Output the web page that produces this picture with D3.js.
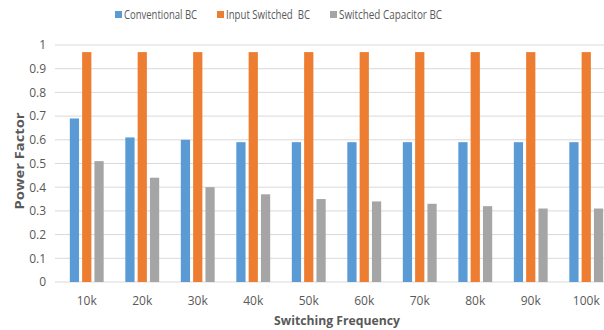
<!DOCTYPE html>
<html><head><meta charset="utf-8">
<script src="https://cdn.jsdelivr.net/npm/d3@7"></script>
<style>body{margin:0;background:#fff}svg{display:block}</style>
</head><body>
<script>
const categories = ["10k","20k","30k","40k","50k","60k","70k","80k","90k","100k"];
const seriesNames = ["Conventional BC","Input Switched  BC","Switched Capacitor BC"];
const conventional = [0.69,0.61,0.60,0.59,0.59,0.59,0.59,0.59,0.59,0.59];
const inputSwitched = [0.97,0.97,0.97,0.97,0.97,0.97,0.97,0.97,0.97,0.97];
const switchedCap = [0.51,0.44,0.40,0.37,0.35,0.34,0.33,0.32,0.31,0.31];
const yTicks = [0,0.1,0.2,0.3,0.4,0.5,0.6,0.7,0.8,0.9,1];
const colors = ["#5B9BD5","#ED7D31","#A5A5A5"];

const W=604,H=330;
const font="'Open Sans',sans-serif";
const svg=d3.select("body").append("svg").attr("width",W).attr("height",H);
const x=d3.scaleBand().domain(categories).range([59,614]).paddingInner(0.39).paddingOuter(0.195);
const x0=d3.scaleBand().domain(categories).range([59,614]);
const y=d3.scaleLinear().domain([0,1]).range([282,45]);
const xs=d3.scaleBand().domain([0,1,2]).range([0,x.bandwidth()]).paddingInner(0.25);

// gridlines
svg.append("g").selectAll("line").data(yTicks).join("line")
 .attr("x1",55).attr("x2",W).attr("y1",d=>y(d)).attr("y2",d=>y(d))
 .attr("stroke","#D9D9D9").attr("stroke-width",1);

// y axis labels
const ya=svg.append("g").attr("transform","translate(46,0)")
 .call(d3.axisLeft(y).tickValues(yTicks).tickSize(0).tickPadding(0).tickFormat(d=>d3.format("")(+d.toFixed(1))));
ya.select(".domain").remove();
ya.selectAll("text").attr("font-family",font).attr("font-size",12).attr("fill","#595959");

// x axis labels
const xa=svg.append("g").attr("transform","translate(0,282)")
 .call(d3.axisBottom(x0).tickSize(0).tickPadding(14));
xa.select(".domain").remove();
xa.selectAll("text").attr("font-family",font).attr("font-size",12).attr("fill","#595959");

const data=[conventional,inputSwitched,switchedCap];
data.forEach((arr,si)=>{
 svg.append("g").selectAll("rect").data(arr).join("rect")
  .attr("x",(d,i)=>x(categories[i])+xs(si))
  .attr("width",xs.bandwidth())
  .attr("y",d=>y(d)).attr("height",d=>y(0)-y(d))
  .attr("fill",colors[si]);
});

// axis titles
svg.append("text").attr("x",337).attr("y",325).attr("text-anchor","middle")
 .attr("font-family",font).attr("font-size",13).attr("font-weight","bold").attr("fill","#595959")
 .attr("textLength",126).attr("lengthAdjust","spacingAndGlyphs")
 .text("Switching Frequency");
svg.append("text").attr("transform","translate(24,161) rotate(-90)").attr("text-anchor","middle")
 .attr("font-family",font).attr("font-size",13).attr("font-weight","bold").attr("fill","#595959")
 .attr("textLength",97).attr("lengthAdjust","spacingAndGlyphs")
 .text("Power Factor");

// legend
const legX=[115,217,330];
const legW=[73,84,103];
const lg=svg.append("g");
seriesNames.forEach((n,i)=>{
 lg.append("rect").attr("x",legX[i]).attr("y",11).attr("width",7).attr("height",7).attr("fill",colors[i]);
 lg.append("text").attr("x",legX[i]+9).attr("y",19).attr("font-family",font).attr("font-size",12)
  .attr("fill","#595959").style("white-space","pre")
  .attr("textLength",legW[i]).attr("lengthAdjust","spacingAndGlyphs").text(n);
});
</script>
</body></html>
